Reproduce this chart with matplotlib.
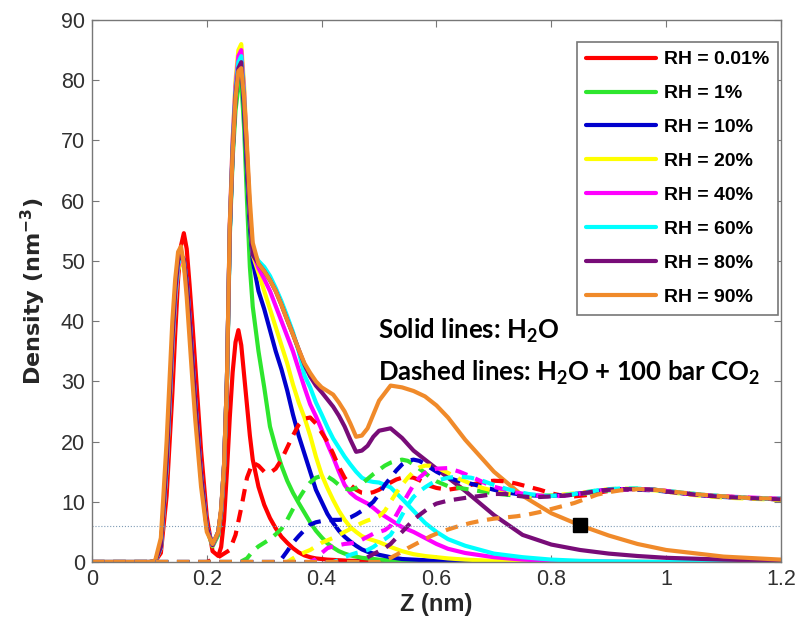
import matplotlib
matplotlib.use("Agg")
import matplotlib.pyplot as plt

# ---- data ----
RH_LABELS = ["RH = 0.01%", "RH = 1%", "RH = 10%", "RH = 20%",
             "RH = 40%", "RH = 60%", "RH = 80%", "RH = 90%"]
COLORS = ["#ff0000", "#2ee62e", "#0000cd", "#ffff00",
          "#ff00ff", "#00ffff", "#780c78", "#f08a2a"]

# z grid for the solid (pure H2O) profiles
Z_SOLID = [0.00, 0.10, 0.11, 0.12, 0.13, 0.14,
           0.145, 0.15, 0.155, 0.16, 0.165, 0.17, 0.175, 0.18,
           0.19, 0.20, 0.21, 0.22,
           0.225, 0.23, 0.235, 0.24, 0.245, 0.25, 0.255, 0.26, 0.265, 0.27, 0.275, 0.28,
           0.29, 0.30, 0.31, 0.32, 0.33, 0.34, 0.35, 0.36, 0.37, 0.38, 0.39, 0.40,
           0.41, 0.42, 0.43, 0.44, 0.45, 0.46, 0.47, 0.48, 0.49, 0.50,
           0.52, 0.54, 0.56, 0.58, 0.60, 0.62, 0.65,
           0.70, 0.75, 0.80, 0.85, 0.90, 0.95, 1.00, 1.10, 1.20]

h2o_001 = [0, 0, 0.1, 1.5, 11, 28,
           38, 47, 52.5, 54.6, 52, 46, 39.5, 32.5,
           18.5, 7.5, 1.8, 1.0,
           2.5, 7, 15, 24, 31.5, 36.5, 38.5, 36, 31, 26, 21, 17,
           12.5, 9.5, 7.3, 5.6, 4.2, 3.2, 2.3, 1.6, 1.1, 0.8, 0.6, 0.5,
           0.4, 0.35, 0.3, 0.25, 0.2, 0.2, 0.15, 0.15, 0.1, 0.1,
           0.1, 0.05, 0.05, 0, 0, 0, 0,
           0, 0, 0, 0, 0, 0, 0, 0, 0]
h2o_1 = [0, 0, 0.1, 2.5, 16, 36,
         44, 48.5, 50, 49.5, 46, 40, 33, 26,
         14, 5.5, 2.6, 4.5,
         8, 15, 29, 54, 67, 75, 79, 80, 72, 60, 49, 42.4,
         35, 29, 22.5, 19, 16, 13.5, 11.5, 9.8, 8.2, 6.6, 5.2, 4.1,
         3.1, 2.4, 1.8, 1.4, 1.1, 0.9, 0.7, 0.6, 0.5, 0.4,
         0.3, 0.2, 0.15, 0.1, 0.1, 0.05, 0,
         0, 0, 0, 0, 0, 0, 0, 0, 0]
h2o_10 = [0, 0, 0.1, 2.5, 16, 36,
          44, 49, 50.5, 50, 46.5, 40.5, 33.5, 26.5,
          14.5, 5.8, 2.8, 5,
          8.5, 16, 30, 55, 68, 77, 81.5, 83, 75, 65, 56, 50,
          45, 42, 38.5, 35, 32, 28.5, 24.5, 21, 18, 15, 12, 10,
          8, 6.5, 5.2, 4.2, 3.4, 2.7, 2.1, 1.7, 1.4, 1.2,
          0.8, 0.5, 0.4, 0.3, 0.2, 0.1, 0.1,
          0.05, 0, 0, 0, 0, 0, 0, 0, 0]
h2o_20 = [0, 0, 0.1, 2.3, 15.5, 35.5,
          43.5, 48.5, 50, 49.5, 46, 40, 33, 26,
          14, 5.5, 2.7, 5,
          8.5, 16, 30, 56, 70, 80, 85, 86, 79, 68, 58, 51,
          48, 45, 42, 39, 36, 33, 29.5, 26.5, 24, 21, 17.5, 14.5,
          12.3, 10.3, 8.5, 7, 5.8, 5, 4.3, 3.9, 3.6, 3.3,
          2.5, 1.8, 1.3, 1, 0.8, 0.6, 0.4,
          0.2, 0.1, 0.05, 0, 0, 0, 0, 0, 0]
h2o_40 = [0, 0, 0.1, 2.4, 16, 36,
          44, 49, 50.5, 50, 46.5, 40.5, 33.5, 26.5,
          14.5, 5.8, 2.8, 5,
          8.5, 16, 30, 56, 70, 79, 84, 85, 78, 68, 58, 51.5,
          48.8, 47, 45, 42.5, 40, 37.5, 35, 32, 29, 26.2, 24.2, 22,
          19.6, 17.4, 15, 12.8, 11.5, 10.7, 10.2, 9.7, 9, 8.2,
          7, 5.8, 5, 4, 3, 2.2, 1.5,
          0.8, 0.4, 0.2, 0.1, 0.05, 0, 0, 0, 0]
h2o_60 = [0, 0, 0.1, 2.4, 16, 36.5,
          44.5, 49.5, 50.8, 50.2, 46.5, 40.5, 33.5, 26.5,
          14.5, 5.8, 2.8, 5,
          8.5, 16, 30, 55, 69, 78, 83, 84, 77, 67, 58, 51.5,
          50, 49, 47.5, 45.5, 43.3, 40.8, 38.2, 35, 31, 29, 26.5, 24.5,
          22.4, 20.5, 19, 17.5, 16.2, 15, 14, 13.5, 13.3, 13.2,
          12.4, 10.5, 8.5, 6.5, 5, 3.8, 2.7,
          1.4, 0.8, 0.4, 0.2, 0.1, 0.05, 0, 0, 0]
h2o_80 = [0, 0, 0.1, 2.5, 16.5, 37,
          45, 50, 51, 50.3, 46.5, 40.5, 33.5, 26.5,
          14.5, 5.8, 2.8, 5,
          8.5, 16, 30, 55, 68.5, 77.5, 82, 83, 76, 66.5, 57.5, 51,
          49.5, 48.3, 46.8, 45, 42.7, 40.2, 37.8, 35.3, 32.8, 30.8, 29.3, 28.2,
          27, 25.8, 24.3, 22.5, 20.3, 18.3, 18.5, 19.3, 20.8, 21.8,
          22.2, 20.6, 18.5, 17, 15.5, 14, 11.8,
          7.8, 4.5, 2.9, 2.0, 1.4, 1.0, 0.7, 0.4, 0.2]
h2o_90 = [0, 0, 0.2, 4, 20, 40,
          47, 51.5, 52.4, 49.5, 44, 37, 30, 23.5,
          12.5, 5, 3, 5,
          9, 16, 30, 56, 68, 77, 81.5, 82, 77, 69, 60, 53,
          49.5, 48.3, 46.8, 45, 42.7, 40.2, 37.8, 35.3, 33, 31.4, 30, 29,
          28.4, 27.8, 26.5, 25, 23, 20.8, 21, 22.2, 24.5, 26.8,
          29.3, 29, 28.4, 27.5, 26, 24, 20.3,
          15, 11, 8.1, 6.1, 4.4, 3.0, 2.0, 0.9, 0.4]

# z grid for the dashed (H2O + 100 bar CO2) profiles
Z_DASH = [0.00, 0.20, 0.22, 0.24, 0.25, 0.26, 0.27, 0.28, 0.29, 0.30,
          0.31, 0.32, 0.33, 0.34, 0.35, 0.36, 0.37, 0.38, 0.39, 0.40,
          0.41, 0.42, 0.43, 0.44, 0.45, 0.46, 0.47, 0.48, 0.49, 0.50,
          0.51, 0.52, 0.53, 0.54, 0.55, 0.56, 0.57, 0.58, 0.59, 0.60,
          0.62, 0.64, 0.66, 0.68, 0.70, 0.72, 0.74, 0.76, 0.78, 0.80,
          0.82, 0.84, 0.86, 0.88, 0.90, 0.92, 0.95, 0.98, 1.00, 1.03,
          1.06, 1.10, 1.15, 1.20]

co2_001 = [0, 0, 0.8, 2, 4.5, 9, 14, 16.5, 16, 15,
           14.8, 15.5, 17, 19, 21, 22.8, 23.8, 24, 23, 21.5,
           20, 18, 15.8, 14, 12.8, 12, 11.5, 11.4, 11.6, 12,
           12.6, 13.2, 13.7, 14, 14.1, 14, 13.6, 13.1, 12.6, 12.3,
           12, 12.3, 12.8, 13.3, 13.5, 13.4, 13, 12.5, 12, 11.4,
           11, 10.9, 11.1, 11.5, 11.8, 12, 12.1, 12, 11.8, 11.4,
           11.1, 10.9, 10.6, 10.4]
co2_1 = [0, 0, 0, 0, 0, 0.1, 0.6, 1.8, 2.6, 3.2,
         3.8, 4.6, 5.5, 7, 8.8, 10.5, 12, 13.2, 14, 14.3,
         14.2, 13.6, 12.8, 12.2, 12, 12.3, 13, 13.8, 14.6, 15.3,
         16, 16.5, 16.8, 17, 16.8, 16.2, 15.5, 14.8, 14, 13.4,
         12.6, 12.3, 12, 11.7, 11.4, 11.2, 11, 10.9, 10.9, 11,
         11.1, 11.2, 11.4, 11.7, 11.9, 12.1, 12.2, 12, 11.8, 11.5,
         11.2, 10.9, 10.6, 10.5]
co2_10 = [0, 0, 0, 0, 0, 0, 0, 0, 0, 0,
          0, 0, 0.5, 1.8, 3.2, 4.3, 5.3, 6.2, 6.6, 6.8,
          6.9, 7, 7, 7.1, 7.4, 7.9, 8.5, 9.2, 10, 11.3,
          12.8, 14, 15.2, 16.2, 16.8, 17, 16.8, 16.3, 15.6, 15,
          14, 13.4, 13, 12.5, 12, 11.6, 11.3, 11.1, 11, 11,
          11.1, 11.3, 11.5, 11.8, 12, 12.1, 12, 11.9, 11.7, 11.4,
          11.1, 10.8, 10.6, 10.4]
co2_20 = [0, 0, 0, 0, 0, 0, 0, 0, 0, 0,
          0, 0, 0, 0, 0.6, 1.2, 1.6, 2, 2.6, 3.2,
          3.6, 4, 4.5, 5, 5.5, 6, 6.5, 6.9, 7.2, 7.6,
          8.5, 10, 11.5, 12.8, 14, 15, 15.7, 16, 16, 15.7,
          14.8, 13.8, 13, 12.3, 11.8, 11.4, 11.2, 11, 11, 11.1,
          11.2, 11.4, 11.6, 11.9, 12.1, 12.2, 12.1, 11.9, 11.7, 11.3,
          11, 10.7, 10.5, 10.3]
co2_40 = [0, 0, 0, 0, 0, 0, 0, 0, 0, 0,
          0, 0, 0, 0, 0, 0, 0, 0, 0.5, 1.5,
          2.3, 2.6, 2.8, 3, 3.1, 3.3, 3.7, 4.2, 4.7, 5,
          5.3, 6, 7.8, 9.5, 11.2, 12.8, 14, 14.8, 15.3, 15.5,
          15.6, 15, 14.2, 13.3, 12.5, 12, 11.5, 11.2, 11, 10.9,
          11, 11.2, 11.5, 11.8, 12, 12.1, 12.1, 12, 11.8, 11.4,
          11.1, 10.9, 10.7, 10.5]
co2_60 = [0, 0, 0, 0, 0, 0, 0, 0, 0, 0,
          0, 0, 0, 0, 0, 0, 0, 0, 0, 0,
          0, 0, 0.3, 0.8, 1.2, 1.5, 1.7, 2, 2.5, 3.2,
          3.8, 4.5, 6, 7.8, 9.5, 10.8, 11.7, 12.4, 13, 13.5,
          14, 14.2, 14, 13.5, 12.8, 12.2, 11.7, 11.3, 11.1, 11,
          11.1, 11.3, 11.6, 11.9, 12.1, 12.2, 12.2, 12, 11.8, 11.5,
          11.2, 10.9, 10.6, 10.5]
co2_80 = [0, 0, 0, 0, 0, 0, 0, 0, 0, 0,
          0, 0, 0, 0, 0, 0, 0, 0, 0, 0,
          0, 0, 0, 0, 0, 0, 0.3, 0.8, 1.3, 1.8,
          2.3, 3, 4, 5, 6, 7, 7.8, 8.5, 9.2, 9.7,
          10.2, 10.5, 10.8, 11, 11.3, 11.3, 11, 10.8, 10.8, 10.9,
          11, 11.2, 11.5, 11.8, 12, 12.1, 12.1, 12, 11.7, 11.4,
          11.1, 10.8, 10.6, 10.4]
co2_90 = [0, 0, 0, 0, 0, 0, 0, 0, 0, 0,
          0, 0, 0, 0, 0, 0, 0, 0, 0, 0,
          0, 0, 0, 0, 0, 0, 0, 0, 0, 0,
          0.3, 0.7, 1.2, 1.7, 2.3, 2.8, 3.3, 3.8, 4.3, 4.7,
          5.4, 6, 6.5, 6.9, 7.2, 7.4, 7.6, 7.9, 8.3, 8.8,
          9.3, 9.8, 10.5, 11.2, 11.6, 11.9, 12.1, 12, 11.8, 11.5,
          11.2, 10.9, 10.6, 10.5]

SOLID = [h2o_001, h2o_1, h2o_10, h2o_20, h2o_40, h2o_60, h2o_80, h2o_90]
DASHED = [co2_001, co2_1, co2_10, co2_20, co2_40, co2_60, co2_80, co2_90]

REF_LEVEL = 6.0          # dotted horizontal line
MARK_Z, MARK_RHO = 0.85, 6.1   # black square on the RH = 90% curve

X_TICKS = [0, 0.2, 0.4, 0.6, 0.8, 1.0, 1.2]
X_TICK_LABELS = ["0", "0.2", "0.4", "0.6", "0.8", "1", "1.2"]
Y_TICKS = [0, 10, 20, 30, 40, 50, 60, 70, 80, 90]

# ---- style ----
plt.rcParams["font.family"] = ["Liberation Sans", "DejaVu Sans"]
plt.rcParams["mathtext.fontset"] = "custom"
plt.rcParams["mathtext.rm"] = "Lato:bold"
plt.rcParams["mathtext.it"] = "Lato:bold"
plt.rcParams["mathtext.bf"] = "Lato:bold"

fig = plt.figure(figsize=(7.99, 6.37), dpi=100)
ax = fig.add_axes([0.1151, 0.1177, 0.8624, 0.8509])

handles = []
for vals, col, lab in zip(SOLID, COLORS, RH_LABELS):
    ln, = ax.plot(Z_SOLID, vals, color=col, lw=3.0, label=lab,
                  solid_joinstyle="round", solid_capstyle="round")
    handles.append(ln)

for vals, col in zip(DASHED, COLORS):
    ax.plot(Z_DASH, vals, color=col, lw=3.0, dashes=(3.0, 2.1))

ax.axhline(REF_LEVEL, color="#7f9bb5", lw=0.8, ls=":")
ax.plot([MARK_Z], [MARK_RHO], "s", color="black", ms=10)

ax.set_xlim(0, 1.2)
ax.set_ylim(0, 90)
ax.set_xticks(X_TICKS)
ax.set_xticklabels(X_TICK_LABELS)
ax.set_yticks(Y_TICKS)
ax.tick_params(direction="in", length=5, width=0.8, colors="#777777",
               labelcolor="#303030", labelsize=15.5, top=True, right=True, pad=5)
for sp in ax.spines.values():
    sp.set_color("#777777")
    sp.set_linewidth(1.0)

ax.set_xlabel("Z (nm)", fontsize=17, fontweight="bold", color="#262626", labelpad=2,
              family=["Liberation Sans Narrow", "Liberation Sans"])
ax.set_ylabel(r"Density (nm$^{\mathbf{-3}}$)", fontsize=16, fontweight="bold",
              color="#262626", labelpad=9, family=["DejaVu Sans"],
              math_fontfamily="dejavusans")

ax.text(0.498, 38.4, "Solid lines: H$_2$O", fontsize=18.5, fontweight="bold",
        family=["Lato", "DejaVu Sans"], va="center", ha="left")
ax.text(0.498, 31.4, "Dashed lines: H$_2$O + 100 bar CO$_2$", fontsize=18.5,
        fontweight="bold", family=["Lato", "DejaVu Sans"], va="center", ha="left")

leg = ax.legend(handles=handles, loc="upper right", bbox_to_anchor=(0.9956, 0.9594),
                prop={"weight": "bold", "size": 14},
                labelspacing=0.84, handlelength=3.6, handletextpad=0.4,
                borderpad=0.45, borderaxespad=0, fancybox=False, framealpha=1)
leg.get_frame().set_edgecolor("#777777")
leg.get_frame().set_linewidth(1.2)

fig.savefig("out.png", dpi=100)
